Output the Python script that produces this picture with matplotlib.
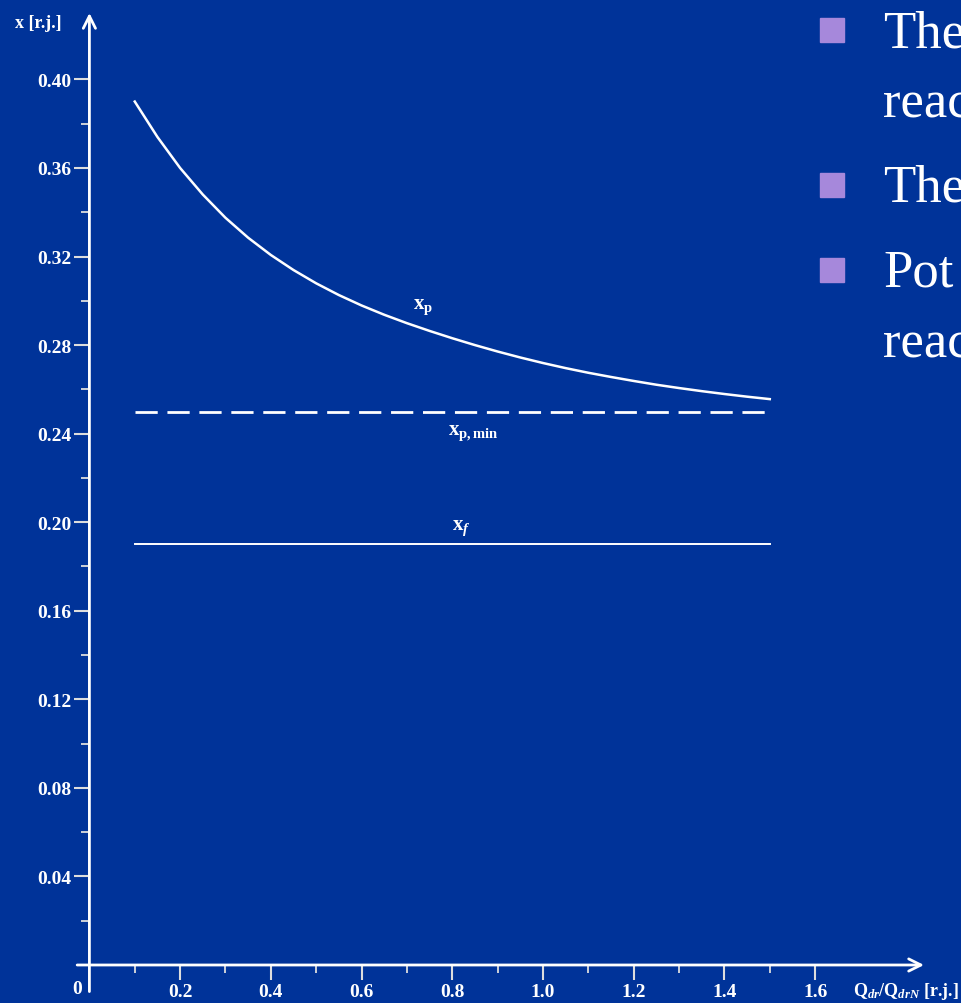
import numpy as np
import matplotlib
matplotlib.use("Agg")
import matplotlib.pyplot as plt
from matplotlib.ticker import FixedLocator

# data
q_ratio = [0.10, 0.15, 0.20, 0.25, 0.30, 0.35, 0.40, 0.45, 0.50, 0.55, 0.60, 0.65,
           0.70, 0.75, 0.80, 0.85, 0.90, 0.95, 1.00, 1.05, 1.10, 1.15, 1.20, 1.25,
           1.30, 1.35, 1.40, 1.45, 1.50]
x_p = [0.3900, 0.3740, 0.3600, 0.3480, 0.3375, 0.3285, 0.3207, 0.3139, 0.3079,
       0.3026, 0.2979, 0.2937, 0.2899, 0.2864, 0.2831, 0.2800, 0.2771, 0.2744,
       0.2719, 0.2696, 0.2675, 0.2656, 0.2638, 0.2621, 0.2606, 0.2592, 0.2579,
       0.2567, 0.2556]
x_p_min = 0.25
x_f = 0.19
line_range = [0.1, 1.5]

x_major = [0.2, 0.4, 0.6, 0.8, 1.0, 1.2, 1.4, 1.6]
x_minor = [0.1, 0.3, 0.5, 0.7, 0.9, 1.1, 1.3, 1.5]
y_major = [0.04, 0.08, 0.12, 0.16, 0.20, 0.24, 0.28, 0.32, 0.36, 0.40]
y_minor = [0.02, 0.06, 0.10, 0.14, 0.18, 0.22, 0.26, 0.30, 0.34, 0.38]

bullet_text = ["The", "reac", "The", "Pot", "reac"]

BG = "#003399"
plt.rcParams['lines.scale_dashes'] = False
plt.rcParams['mathtext.fontset'] = 'custom'
plt.rcParams['mathtext.rm'] = 'Liberation Serif:bold'
plt.rcParams['mathtext.it'] = 'Liberation Serif:bold:italic'
plt.rcParams['mathtext.bf'] = 'Liberation Serif:bold'

W, H = 962, 1004
fig = plt.figure(figsize=(W / 100, H / 100), dpi=100, facecolor=BG)
# axes placed so x=0 -> px 89, y=0 -> px 966 from top
ax = fig.add_axes([89.4 / W, 38 / H, 834.6 / W, 952 / H])
ax.set_facecolor(BG)
ax.set_xlim(0, 1.84)
ax.set_ylim(0, 0.43)
for s in ax.spines.values():
    s.set_visible(False)

# curves
ax.plot(q_ratio, x_p, color="white", lw=1.8, solid_joinstyle="round")
ax.plot(line_range, [x_p_min, x_p_min], color="white", lw=2, dashes=(16, 7))
ax.plot(line_range, [x_f, x_f], color="white", lw=1.4)

# axes with arrows
ax.annotate("", xy=(0, 0.43), xytext=(0, -0.012), annotation_clip=False,
            arrowprops=dict(arrowstyle="->", color="white", lw=2, mutation_scale=22,
                            shrinkA=0, shrinkB=0))
ax.annotate("", xy=(1.84, 0), xytext=(-0.027, 0), annotation_clip=False,
            arrowprops=dict(arrowstyle="->", color="white", lw=2, mutation_scale=22,
                            shrinkA=0, shrinkB=0))

# ticks
ax.xaxis.set_major_locator(FixedLocator(x_major))
ax.xaxis.set_minor_locator(FixedLocator(x_minor))
ax.yaxis.set_major_locator(FixedLocator(y_major))
ax.yaxis.set_minor_locator(FixedLocator(y_minor))
ax.set_xticklabels(["%.1f" % v for v in x_major])
ax.set_yticklabels(["%.2f" % v for v in y_major])
ax.tick_params(axis="both", which="major", direction="out", length=11, width=1.5,
               color="#dddddd", labelcolor="white", pad=2, labelsize=14)
ax.tick_params(axis="both", which="minor", direction="out", length=6, width=1.3,
               color="#dddddd")
for lab in ax.get_xticklabels() + ax.get_yticklabels():
    lab.set_fontfamily("Liberation Serif")
    lab.set_fontweight("bold")

# origin label and axis titles
ax.text(-0.028, -0.007, "0", color="white", fontsize=14, fontweight="bold",
        family="Liberation Serif", ha="center", va="top", clip_on=False)
fig.text(15 / W, 1 - 24 / H, "x [r.j.]", color="white", fontsize=13,
         fontweight="bold", family="Liberation Serif", ha="left", va="center")
fig.text(853 / W, 1 - 992 / H, r"Q$_{dr}$/Q$_{drN}$ [r.j.]", color="white",
         fontsize=13, fontweight="bold", family="Liberation Serif", ha="left",
         va="center")

# curve labels
ax.text(0.735, 0.2975, r"$\mathrm{x_p}$", color="white", fontsize=15,
        ha="center", va="center")
ax.text(0.79, 0.2406, r"$\mathrm{x_{p,min}}$", color="white", fontsize=15,
        ha="left", va="center")
ax.text(0.82, 0.198, r"$\mathrm{x_{\mathit{f}}}$", color="white", fontsize=15,
        ha="center", va="center")

# bullet text on the right, cut off by the figure edge as in the slide
baselines = [47, 117, 202, 287, 357]
has_bullet = [True, False, True, True, False]
for txt, yb, b in zip(bullet_text, baselines, has_bullet):
    fig.text(883 / W, 1 - yb / H, txt, color="white", fontsize=38,
             family="Liberation Serif", ha="left", va="baseline")
    if b:
        top = yb - 28
        fig.patches.append(plt.Rectangle((820 / W, 1 - (top + 24) / H), 24 / W, 24 / H,
                                         transform=fig.transFigure, color="#a688db"))

fig.savefig("out.png", dpi=100, facecolor=BG)
